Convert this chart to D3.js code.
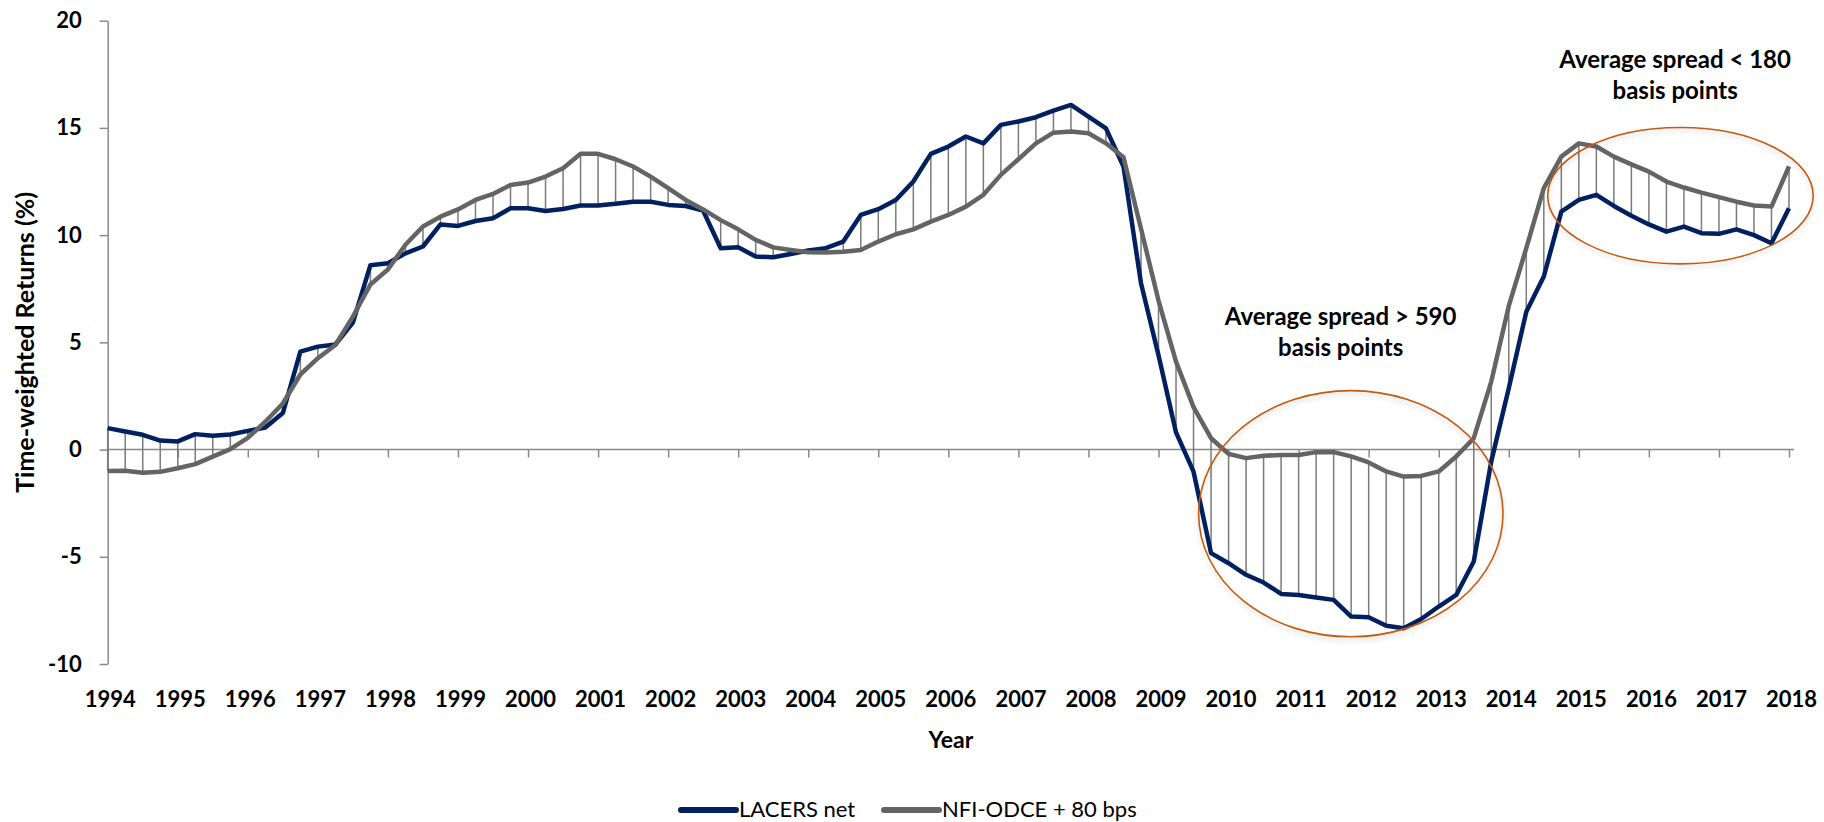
<!DOCTYPE html>
<html>
<head>
<meta charset="utf-8">
<script src="https://cdn.jsdelivr.net/npm/d3@7"></script>
<style>
  body { margin: 0; background: #fff; }
  text { font-family: Lato, "Open Sans", sans-serif; }
</style>
</head>
<body>
<div id="chart"></div>
<script>
// quarterly returns, 1994 Q1 .. 2018 Q1
const yearLabels = ["1994", "1995", "1996", "1997", "1998", "1999", "2000", "2001", "2002", "2003", "2004", "2005",
    "2006", "2007", "2008", "2009", "2010", "2011", "2012", "2013", "2014", "2015", "2016", "2017", "2018"]

const lacersNet = [1.00, 0.84, 0.69, 0.42, 0.38, 0.72, 0.64, 0.70, 0.87, 1.03,
    1.70, 4.57, 4.80, 4.90, 5.92, 8.60, 8.69, 9.15, 9.47, 10.50,
    10.43, 10.66, 10.79, 11.25, 11.25, 11.13, 11.22, 11.38, 11.38, 11.46,
    11.56, 11.56, 11.41, 11.36, 11.14, 9.39, 9.43, 9.00, 8.97, 9.12,
    9.28, 9.39, 9.70, 10.94, 11.21, 11.64, 12.50, 13.79, 14.13, 14.60,
    14.28, 15.14, 15.30, 15.50, 15.81, 16.07, 15.53, 14.98, 13.20, 7.76,
    4.40, 0.80, -1.03, -4.83, -5.30, -5.84, -6.20, -6.73, -6.78, -6.90,
    -7.01, -7.79, -7.82, -8.22, -8.33, -7.90, -7.32, -6.78, -5.22, -0.55,
    2.86, 6.43, 8.07, 11.10, 11.64, 11.88, 11.36, 10.90, 10.50, 10.16,
    10.40, 10.09, 10.06, 10.27, 10.00, 9.62, 11.25]

const nfiOdce = [-1.00, -0.99, -1.08, -1.04, -0.87, -0.68, -0.33, 0.02, 0.55, 1.30,
    2.15, 3.50, 4.26, 4.88, 6.20, 7.70, 8.40, 9.55, 10.40, 10.86,
    11.20, 11.64, 11.92, 12.34, 12.45, 12.73, 13.12, 13.79, 13.79, 13.54,
    13.20, 12.73, 12.19, 11.64, 11.20, 10.70, 10.27, 9.78, 9.43, 9.31,
    9.20, 9.19, 9.23, 9.31, 9.70, 10.04, 10.27, 10.63, 10.94, 11.33,
    11.88, 12.81, 13.54, 14.28, 14.78, 14.83, 14.75, 14.28, 13.63, 10.30,
    6.95, 4.10, 1.98, 0.53, -0.20, -0.40, -0.29, -0.25, -0.25, -0.12,
    -0.12, -0.32, -0.60, -1.02, -1.26, -1.23, -1.02, -0.32, 0.53, 3.17,
    6.70, 9.39, 12.19, 13.66, 14.28, 14.13, 13.66, 13.30, 12.96, 12.50,
    12.22, 11.98, 11.77, 11.56, 11.38, 11.33, 13.20]

const yTicks = [-10, -5, 0, 5, 10, 15, 20]
const seriesNames = ["LACERS net", "NFI-ODCE + 80 bps"]
const noteLines = [["Average spread > 590", "basis points"], ["Average spread < 180", "basis points"]]

var width = 1824
var height = 822
const blue = "#002060"
const grey = "#646464"
const axisGrey = "#898989"

const svg = d3.select("#chart")
    .append("svg")
    .attr("width", width)
    .attr("height", height)

const x = d3.scaleLinear()
    .domain([0, lacersNet.length - 1])
    .range([107.7, 1789])
const y = d3.scaleLinear()
    .domain([-10, 20])
    .range([664, 20.7])

// y axis
const yAxis = svg.append("g")
    .attr("transform", "translate(" + x(0) + ",0)")
    .call(d3.axisLeft(y).tickValues(yTicks).tickSize(8).tickSizeOuter(0).tickPadding(18)
        .tickFormat(d => String(d)))
yAxis.select(".domain").attr("stroke", axisGrey).attr("stroke-width", 1.5)
yAxis.selectAll(".tick line").attr("stroke", axisGrey).attr("stroke-width", 1.5)
yAxis.selectAll(".tick text")
    .attr("font-size", "22px")
    .attr("font-weight", "bold")
    .attr("fill", "#000")
    .attr("font-family", "Lato")

// x axis sits on zero, labels pushed to the bottom
const yearIdx = yearLabels.map((d, i) => i * 4)
const xAxis = svg.append("g")
    .attr("transform", "translate(0," + y(0) + ")")
    .call(d3.axisBottom(x).tickValues(yearIdx).tickSize(8).tickSizeOuter(0)
        .tickPadding(y(-10) - y(0) + 19)
        .tickFormat((d, i) => yearLabels[i]))
xAxis.select(".domain").remove()
xAxis.append("line")
    .attr("x1", x(0)).attr("x2", x(lacersNet.length - 1) + 5)
    .attr("stroke", axisGrey).attr("stroke-width", 1.5)
xAxis.selectAll(".tick line").attr("stroke", axisGrey).attr("stroke-width", 1.5)
xAxis.selectAll(".tick text")
    .attr("font-size", "22px")
    .attr("font-weight", "bold")
    .attr("fill", "#000")
    .attr("font-family", "Lato")
    .attr("dx", 2)

// high-low lines between the two series
svg.append("g").selectAll("line")
    .data(lacersNet)
    .join("line")
    .attr("x1", (d, i) => x(i))
    .attr("x2", (d, i) => x(i))
    .attr("y1", d => y(d))
    .attr("y2", (d, i) => y(nfiOdce[i]))
    .attr("stroke", "#7a7a7a")
    .attr("stroke-width", 1.5)

const line = d3.line()
    .x((d, i) => x(i))
    .y(d => y(d))

svg.append("path")
    .datum(lacersNet)
    .attr("d", line)
    .attr("fill", "none")
    .attr("stroke", blue)
    .attr("stroke-width", 4.5)
    .attr("stroke-linejoin", "round")

svg.append("path")
    .datum(nfiOdce)
    .attr("d", line)
    .attr("fill", "none")
    .attr("stroke", grey)
    .attr("stroke-width", 4.5)
    .attr("stroke-linejoin", "round")

// ellipses round the two periods
const defs = svg.append("defs")
defs.append("filter").attr("id", "shadow")
    .attr("x", "-10%").attr("y", "-10%").attr("width", "120%").attr("height", "130%")
    .append("feDropShadow")
    .attr("dx", 0).attr("dy", 3).attr("stdDeviation", 2.5)
    .attr("flood-color", "#000").attr("flood-opacity", 0.18)

const rings = [
    { cx: 70.98, cy: -2.99, rx: 8.69, ry: 5.74 },
    { cx: 89.8, cy: 11.84, rx: 7.58, ry: 3.18 }
]
svg.append("g").selectAll("ellipse")
    .data(rings)
    .join("ellipse")
    .attr("cx", d => x(d.cx))
    .attr("cy", d => y(d.cy))
    .attr("rx", d => x(d.rx) - x(0))
    .attr("ry", d => y(0) - y(d.ry))
    .attr("fill", "none")
    .attr("stroke", "#C55A11")
    .attr("stroke-width", 1.6)
    .attr("filter", "url(#shadow)")

// notes
const notePos = [{ x: 70.4, y: 5.83 }, { x: 89.5, y: 17.79 }]
noteLines.forEach((lines, k) => {
    const t = svg.append("text")
        .attr("x", x(notePos[k].x))
        .attr("y", y(notePos[k].y))
        .attr("text-anchor", "middle")
        .attr("font-size", "24px")
        .attr("font-weight", "bold")
        .attr("fill", "#000")
    lines.forEach((s, j) => {
        t.append("tspan")
            .attr("x", x(notePos[k].x))
            .attr("dy", j === 0 ? 0 : 31)
            .text(s)
    })
})

// axis titles
svg.append("text")
    .attr("transform", "translate(33.5," + (y(-10) + y(20)) / 2 + ") rotate(-90)")
    .attr("text-anchor", "middle")
    .attr("font-size", "25px")
    .attr("font-weight", "bold")
    .text("Time-weighted Returns (%)")

svg.append("text")
    .attr("x", (x(0) + x(lacersNet.length - 1) + 5) / 2)
    .attr("y", 748)
    .attr("text-anchor", "middle")
    .attr("font-size", "23px")
    .attr("font-weight", "bold")
    .text("Year")

// legend
const legendX = [681, 884]
const legend = svg.append("g")
seriesNames.forEach((name, i) => {
    legend.append("line")
        .attr("x1", legendX[i]).attr("x2", legendX[i] + 55)
        .attr("y1", 810).attr("y2", 810)
        .attr("stroke", i === 0 ? blue : grey)
        .attr("stroke-width", 6)
        .attr("stroke-linecap", "round")
    legend.append("text")
        .attr("x", legendX[i] + 58)
        .attr("y", 817)
        .attr("font-size", "22px")
        .attr("fill", "#000")
        .text(name)
})
</script>
</body>
</html>
